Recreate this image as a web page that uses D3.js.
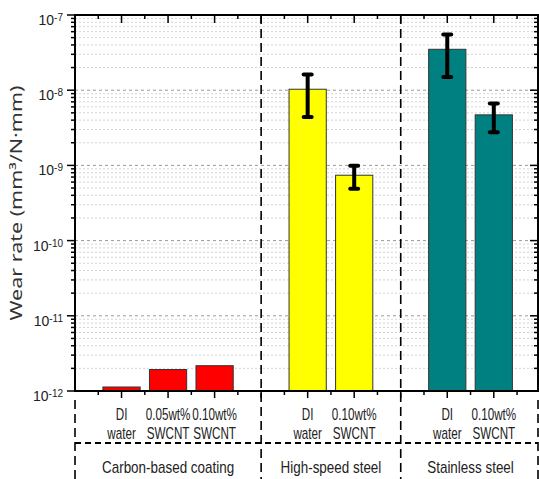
<!DOCTYPE html>
<html>
<head>
<meta charset="utf-8">
<script src="https://cdn.jsdelivr.net/npm/d3@7/dist/d3.min.js"></script>
<style>
  html, body { margin: 0; padding: 0; background: #fff; }
  svg { display: block; }
</style>
</head>
<body>
<script>
// Wear rate of three substrate groups under different lubricants
const groups      = ["Carbon-based coating", "High-speed steel", "Stainless steel"];
const groupCenter = [2, 5.5, 8.5];
const positions   = [1, 2, 3, 5, 6, 8, 9];
const labelLine1  = ["DI", "0.05wt%", "0.10wt%", "DI", "0.10wt%", "DI", "0.10wt%"];
const labelLine2  = ["water", "SWCNT", "SWCNT", "water", "SWCNT", "water", "SWCNT"];
const wearRate    = [1.13e-12, 1.93e-12, 2.17e-12, 1.03e-8, 7.4e-10, 3.5e-8, 4.7e-9];
const wearError   = [null, null, null, 5.9e-9, 2.5e-10, 2.0e-8, 1.95e-9];
const barColors   = ["#ff0000", "#ff0000", "#ff0000", "#ffff00", "#ffff00", "#008080", "#008080"];
const decadeExp   = [-7, -8, -9, -10, -11, -12];
const separators  = [4, 7];

const W = 539, H = 479;
const L = 75, R = 538, T = 15, B = 391;

const svg = d3.select("body").append("svg").attr("width", W).attr("height", H);

const x = d3.scaleLinear().domain([0, 9.95]).range([L, R]);
const y = d3.scaleLog().domain([1e-12, 1e-7]).range([B, T]);

// log gridlines: decades darker, intermediates lighter
const gridVals = [];
for (let e = -12; e <= -8; e++) {
  for (let m = 1; m <= 9; m++) {
    const v = m * Math.pow(10, e);
    if (v > 1e-12 && v < 1e-7) gridVals.push({ v, major: m === 1 });
  }
}
svg.append("g").selectAll("line").data(gridVals).join("line")
  .attr("x1", L).attr("x2", R)
  .attr("y1", d => y(d.v)).attr("y2", d => y(d.v))
  .attr("stroke", d => d.major ? "#9a9a9a" : "#d4d4d4")
  .attr("stroke-width", 1)
  .attr("stroke-dasharray", d => d.major ? "3,3" : "2,2");

// bars
const data = positions.map((p, i) => ({ p, v: wearRate[i], e: wearError[i], c: barColors[i] }));
const bw = x(0.8) - x(0);
svg.append("g").selectAll("rect").data(data).join("rect")
  .attr("x", d => x(d.p) - bw / 2)
  .attr("width", bw)
  .attr("y", d => y(d.v))
  .attr("height", d => y(1e-12) - y(d.v))
  .attr("fill", d => d.c)
  .attr("stroke", "#333")
  .attr("stroke-width", 1);

// error bars
const eb = svg.append("g").selectAll("g").data(data.filter(d => d.e != null)).join("g")
  .attr("stroke", "#000").attr("stroke-width", 4).attr("stroke-linecap", "round");
eb.append("line")
  .attr("x1", d => x(d.p)).attr("x2", d => x(d.p))
  .attr("y1", d => y(d.v - d.e)).attr("y2", d => y(d.v + d.e))
  .attr("stroke-linecap", "butt");
eb.append("line")
  .attr("x1", d => x(d.p) - 4).attr("x2", d => x(d.p) + 4)
  .attr("y1", d => y(d.v + d.e)).attr("y2", d => y(d.v + d.e));
eb.append("line")
  .attr("x1", d => x(d.p) - 4).attr("x2", d => x(d.p) + 4)
  .attr("y1", d => y(d.v - d.e)).attr("y2", d => y(d.v - d.e));

// dashed group separators
const sep = svg.append("g").attr("stroke", "#000").attr("fill", "none");
sep.selectAll("line.v").data(separators).join("line")
  .attr("class", "v")
  .attr("x1", d => x(d)).attr("x2", d => x(d))
  .attr("y1", T).attr("y2", H)
  .attr("stroke-width", 1.6).attr("stroke-dasharray", "9,5");
sep.selectAll("line.e").data([0, 9.95]).join("line")
  .attr("class", "e")
  .attr("x1", d => x(d)).attr("x2", d => x(d))
  .attr("y1", B + 9).attr("y2", H)
  .attr("stroke-width", 1.6).attr("stroke-dasharray", "9,5");
sep.append("line")
  .attr("x1", L).attr("x2", R).attr("y1", 443).attr("y2", 443)
  .attr("stroke-width", 2).attr("stroke-dasharray", "6,4");

// ticks
const xMajor = d3.range(1, 10);
const xMinor = d3.range(0.5, 9.9, 1);
const yMajor = decadeExp.map(e => Math.pow(10, e));
const yMinor = gridVals.filter(d => !d.major).map(d => d.v);
const tk = svg.append("g").attr("stroke", "#000").attr("stroke-width", 1.5);
// bottom (outward) and top (inward)
tk.selectAll("line.bM").data(xMajor).join("line").attr("class", "bM")
  .attr("x1", d => x(d)).attr("x2", d => x(d)).attr("y1", B).attr("y2", B + 7);
tk.selectAll("line.bm").data(xMinor).join("line").attr("class", "bm")
  .attr("x1", d => x(d)).attr("x2", d => x(d)).attr("y1", B).attr("y2", B + 4);
tk.selectAll("line.tM").data(xMajor).join("line").attr("class", "tM")
  .attr("x1", d => x(d)).attr("x2", d => x(d)).attr("y1", T).attr("y2", T + 8);
tk.selectAll("line.tm").data(xMinor).join("line").attr("class", "tm")
  .attr("x1", d => x(d)).attr("x2", d => x(d)).attr("y1", T).attr("y2", T + 4);
// left (outward) and right (inward)
tk.selectAll("line.lM").data(yMajor).join("line").attr("class", "lM")
  .attr("x1", L - 8).attr("x2", L).attr("y1", d => y(d)).attr("y2", d => y(d));
tk.selectAll("line.lm").data(yMinor).join("line").attr("class", "lm")
  .attr("x1", L - 4).attr("x2", L).attr("y1", d => y(d)).attr("y2", d => y(d));
tk.selectAll("line.rM").data(yMajor).join("line").attr("class", "rM")
  .attr("x1", R - 8).attr("x2", R).attr("y1", d => y(d)).attr("y2", d => y(d));
tk.selectAll("line.rm").data(yMinor).join("line").attr("class", "rm")
  .attr("x1", R - 4).attr("x2", R).attr("y1", d => y(d)).attr("y2", d => y(d));

// frame
svg.append("rect")
  .attr("x", L).attr("y", T).attr("width", R - L).attr("height", B - T)
  .attr("fill", "none").attr("stroke", "#000").attr("stroke-width", 2);

// y tick labels 10^n
const yl = svg.append("g").selectAll("text").data(decadeExp).join("text")
  .attr("x", 63).attr("y", d => y(Math.pow(10, d)) + 10)
  .attr("text-anchor", "end")
  .attr("font-family", "Liberation Sans, Arial, sans-serif")
  .attr("font-size", 14).attr("fill", "#222");
yl.append("tspan").text("10");
yl.append("tspan").attr("font-size", 10).attr("dy", -4).text(d => String(d));

// y axis title (narrowed across its height)
svg.append("text")
  .attr("transform", "translate(22,203) scale(0.72,1) rotate(-90)")
  .attr("text-anchor", "middle")
  .attr("font-family", "'Noto Sans', sans-serif")
  .attr("font-size", 21.5).attr("fill", "#333")
  .text("Wear rate (mm³/N·mm)");

// category labels (two lines, condensed)
const catFont = "'Liberation Sans', Arial, sans-serif";
const cat = svg.append("g").selectAll("g").data(positions).join("g")
  .attr("transform", d => `translate(${x(d)},0) scale(0.73,1)`);
cat.append("text").attr("y", 420).attr("text-anchor", "middle")
  .attr("font-family", catFont).attr("font-size", 16).attr("fill", "#222")
  .text((d, i) => labelLine1[i]);
cat.append("text").attr("y", 439).attr("text-anchor", "middle")
  .attr("font-family", catFont).attr("font-size", 16).attr("fill", "#222")
  .text((d, i) => labelLine2[i]);

// group labels
svg.append("g").selectAll("text").data(groups).join("text")
  .attr("transform", (d, i) => `translate(${x(groupCenter[i])},473) scale(0.84,1)`)
  .attr("text-anchor", "middle")
  .attr("font-family", catFont).attr("font-size", 16).attr("fill", "#222")
  .text(d => d);
</script>
</body>
</html>
